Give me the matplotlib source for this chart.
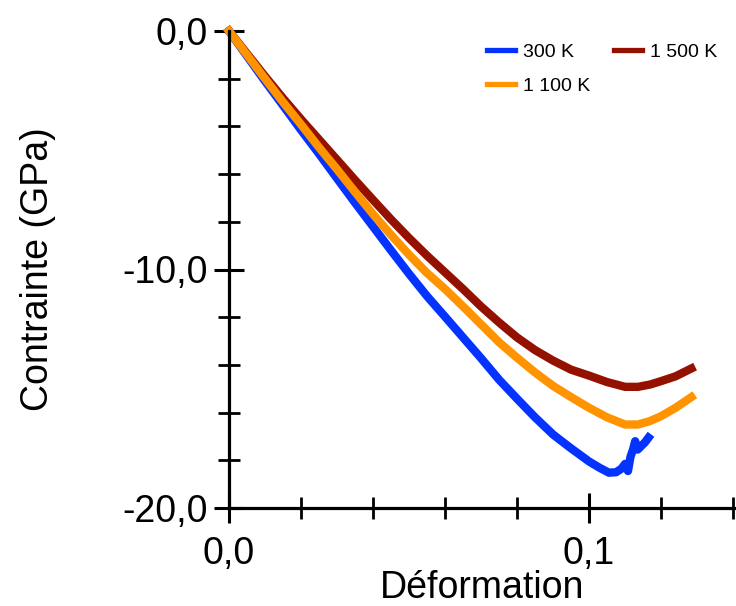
import matplotlib
matplotlib.use("Agg")
import matplotlib.pyplot as plt

plt.rcParams['font.family'] = ['Liberation Sans', 'DejaVu Sans']

# ---- data (strain, stress GPa) ----
strain_300 = [0.000, 0.005, 0.010, 0.015, 0.020, 0.025, 0.030, 0.035, 0.040, 0.045,
              0.050, 0.055, 0.060, 0.065, 0.070, 0.075, 0.080, 0.085, 0.090, 0.095,
              0.100, 0.103, 0.1055, 0.1075, 0.109, 0.1100, 0.1108, 0.1115, 0.1122,
              0.1128, 0.1135, 0.1145, 0.1155, 0.1165]
stress_300 = [0.00, -1.05, -2.10, -3.12, -4.15, -5.15, -6.18, -7.20, -8.20, -9.20,
              -10.18, -11.12, -11.98, -12.85, -13.72, -14.62, -15.42, -16.20, -16.92, -17.50,
              -18.05, -18.32, -18.52, -18.50, -18.35, -18.15, -18.45, -17.85, -17.55,
              -17.20, -17.55, -17.40, -17.25, -17.05]

strain_1100 = [0.000, 0.005, 0.010, 0.015, 0.020, 0.025, 0.030, 0.035, 0.040, 0.045,
               0.050, 0.055, 0.060, 0.065, 0.070, 0.075, 0.080, 0.085, 0.090, 0.095,
               0.100, 0.105, 0.110, 0.1136, 0.117, 0.120, 0.124, 0.1284]
stress_1100 = [0.00, -1.00, -2.00, -2.98, -3.92, -4.88, -5.80, -6.75, -7.68, -8.55,
               -9.38, -10.15, -10.82, -11.55, -12.30, -13.05, -13.70, -14.32, -14.88, -15.35,
               -15.80, -16.20, -16.50, -16.50, -16.35, -16.15, -15.80, -15.35]

strain_1500 = [0.000, 0.005, 0.010, 0.015, 0.020, 0.025, 0.030, 0.035, 0.040, 0.045,
               0.050, 0.055, 0.060, 0.065, 0.070, 0.075, 0.080, 0.085, 0.090, 0.095,
               0.100, 0.105, 0.110, 0.1136, 0.117, 0.120, 0.124, 0.1284]
stress_1500 = [0.00, -0.95, -1.90, -2.82, -3.70, -4.55, -5.40, -6.25, -7.08, -7.90,
               -8.68, -9.42, -10.12, -10.82, -11.55, -12.22, -12.85, -13.38, -13.82, -14.20,
               -14.45, -14.72, -14.92, -14.92, -14.82, -14.68, -14.48, -14.15]

labels = ["300 K", "1 100 K", "1 500 K"]
colors = ["#0433FF", "#FF9300", "#941100"]

xticks_major = [0.0, 0.1]
xtick_labels = ["0,0", "0,1"]
yticks_major = [0.0, -10.0, -20.0]
ytick_labels = ["0,0", "-10,0", "-20,0"]

W, H = 736, 606
fig = plt.figure(figsize=(W / 100, H / 100), dpi=100)
ax = fig.add_axes([229 / W, (H - 508) / H, (W - 229) / W, (508 - 31) / H])

lw = 6.0
l300, = ax.plot(strain_300, stress_300, color=colors[0], lw=lw, clip_on=False,
                label=labels[0])
l1500, = ax.plot(strain_1500, stress_1500, color=colors[2], lw=lw, clip_on=False,
                 label=labels[2])
l1100, = ax.plot(strain_1100, stress_1100, color=colors[1], lw=lw, clip_on=False,
                 label=labels[1])

ax.set_xlim(0, 0.1408)
ax.set_ylim(-20, 0)

for s in ['top', 'right']:
    ax.spines[s].set_visible(False)
for s in ['left', 'bottom']:
    ax.spines[s].set_linewidth(2.3)

ax.set_xticks(xticks_major)
ax.set_xticklabels(xtick_labels)
ax.set_yticks(yticks_major)
ax.set_yticklabels(ytick_labels)
ax.set_xticks([0.02, 0.04, 0.06, 0.08, 0.12, 0.14], minor=True)
ax.set_yticks([-2, -4, -6, -8, -12, -14, -16, -18], minor=True)
ax.tick_params(which='major', direction='inout', length=22, width=2.2,
               labelsize=27)
ax.tick_params(which='minor', direction='inout', length=16, width=2.0)
ax.tick_params(axis='y', which='major', pad=4)
ax.tick_params(axis='x', which='major', pad=9.5)

ax.set_xlabel("Déformation", fontsize=27, labelpad=-2)
ax.set_ylabel("Contrainte (GPa)", fontsize=27, labelpad=48)

leg = ax.legend(handles=[l300, l1100, l1500], ncol=2, frameon=False, fontsize=14,
                loc='upper left', bbox_to_anchor=(487 / W, 1 - 43 / H),
                bbox_transform=fig.transFigure, borderpad=0, borderaxespad=0,
                handlelength=1.45, handletextpad=0.4, columnspacing=1.2,
                labelspacing=0.85)
for ln in leg.get_lines():
    ln.set_linewidth(3.8)

fig.savefig("out.png", dpi=100)
